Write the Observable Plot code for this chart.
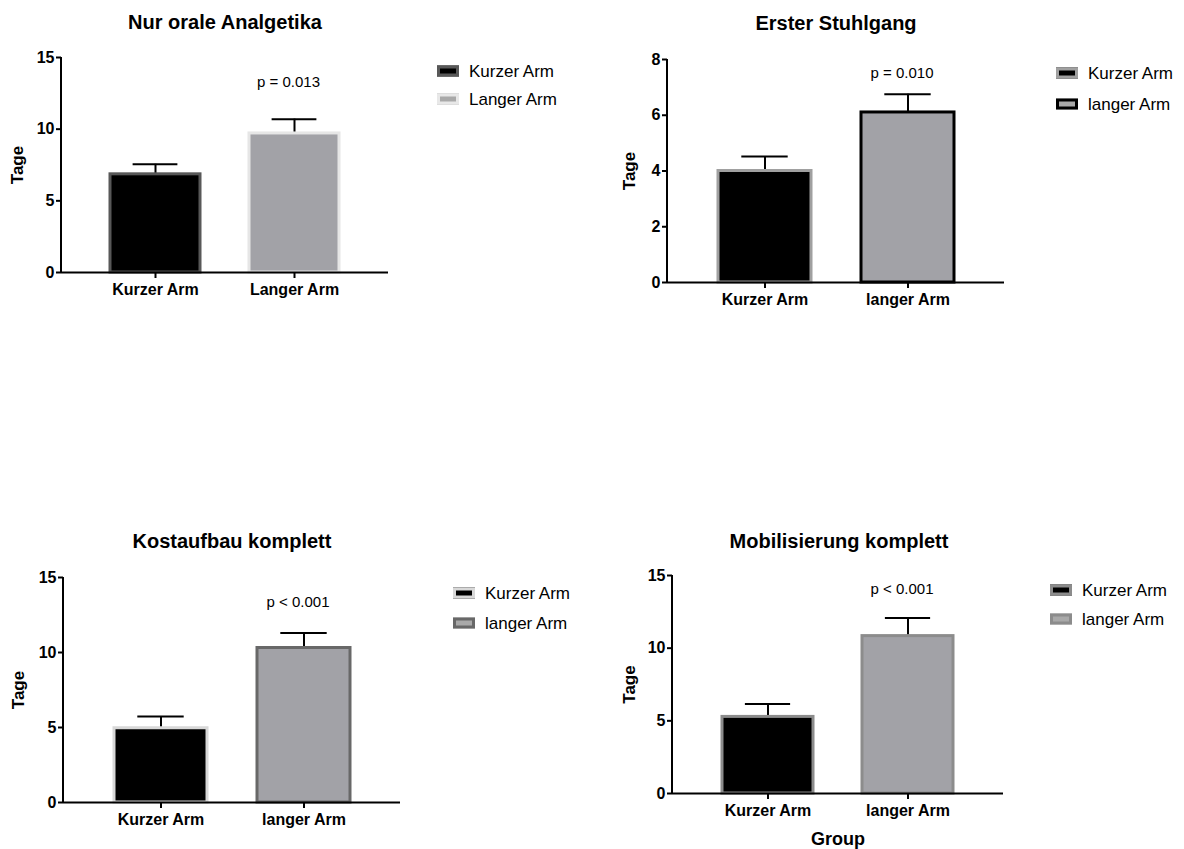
<!DOCTYPE html>
<html><head><meta charset="utf-8">
<script src="https://cdn.jsdelivr.net/npm/d3@7"></script>
<script src="https://cdn.jsdelivr.net/npm/@observablehq/plot@0.6"></script>
<style>
body{margin:0;background:#fff;font-family:"Liberation Sans",Arial,sans-serif;}
#root{position:relative;width:1184px;height:849px;overflow:hidden;}
.panel{position:absolute;}
.title{position:absolute;font-weight:bold;font-size:20px;line-height:1;transform:translate(-50%,-50%);white-space:nowrap;color:#000;}
.leg{position:absolute;display:flex;align-items:center;font-size:17px;line-height:1;white-space:nowrap;transform:translateY(-50%);color:#000;}
.sw{box-sizing:border-box;width:22px;height:11px;border:3px solid;margin-right:10px;}
</style></head><body><div id="root"></div>
<script>
// ---- data ----
const titles = ["Nur orale Analgetika", "Erster Stuhlgang", "Kostaufbau komplett", "Mobilisierung komplett"];
const groupsOral = ["Kurzer Arm", "Langer Arm"];
const groups = ["Kurzer Arm", "langer Arm"];
const meanOral = [6.85, 9.7];   const semOral = [0.7, 1.0];
const meanStuhl = [4.0, 6.1];   const semStuhl = [0.52, 0.65];
const meanKost = [4.95, 10.3];  const semKost = [0.78, 1.0];
const meanMobil = [5.27, 10.83]; const semMobil = [0.89, 1.24];
const pLabels = ["p = 0.013", "p = 0.010", "p < 0.001", "p < 0.001"];
const yTicks15 = [0, 5, 10, 15];
const yTicks8 = [0, 2, 4, 6, 8];
const yLabel = "Tage";
const xLabel = "Group";

// ---- layout / styles ----
const gray = "#a2a2a7";
const panels = [
  {left:0, top:40, w:400, h:270, mL:61, mR:12, mT:17, mB:38, yDomain:[0,15], ticks:yTicks15,
   groups:groupsOral, means:meanOral, sems:semOral, fills:["#000", gray], strokes:["#585858","#e6e6e6"],
   p:pLabels[0], pDy:25, pDx:-6, yLabDx:-44, title:titles[0], titleX:225, titleY:22,
   legX:437, legY:[71,99], legFill:["#000","#a9a9a9"], legStroke:["#585858","#e8e8e8"]},
  {left:590, top:40, w:425, h:280, mL:77, mR:11, mT:19, mB:38, yDomain:[0,8], ticks:yTicks8,
   groups:groups, means:meanStuhl, sems:semStuhl, fills:["#000", gray], strokes:["#a0a0a0","#000"],
   p:pLabels[1], pDy:14, pDx:-6, yLabDx:-38, title:titles[1], titleX:836, titleY:23,
   legX:1056, legY:[73,104], legFill:["#000","#a9a9a9"], legStroke:["#a0a0a0","#000"]},
  {left:0, top:560, w:412, h:280, mL:63, mR:12, mT:17, mB:38, yDomain:[0,15], ticks:yTicks15,
   groups:groups, means:meanKost, sems:semKost, fills:["#000", gray], strokes:["#d8d8d8","#686868"],
   p:pLabels[2], pDy:25, pDx:-6, yLabDx:-45, title:titles[2], titleX:232, titleY:541,
   legX:453, legY:[593,623], legFill:["#000","#a9a9a9"], legStroke:["#d8d8d8","#686868"]},
  {left:590, top:560, w:425, h:293, mL:82, mR:12, mT:15, mB:60, yDomain:[0,15], ticks:yTicks15,
   groups:groups, means:meanMobil, sems:semMobil, fills:["#000", gray], strokes:["#8c8c8c","#8c8c8c"],
   p:pLabels[3], pDy:14, pDx:-6, yLabDx:-43, title:titles[3], titleX:839, titleY:541,
   legX:1050, legY:[590,619], legFill:["#000","#a9a9a9"], legStroke:["#8c8c8c","#8c8c8c"], xLab:true, xLabDy:46}
];

const root = document.getElementById("root");
const pad = 0.35;

function drawPanel(c) {
  const data = c.groups.map((g, i) => ({group: g, mean: c.means[i], top: c.means[i] + c.sems[i], fill: c.fills[i], stroke: c.strokes[i]}));
  const step = (c.w - c.mL - c.mR) / (c.groups.length - pad + 2 * pad);
  const bw = step * (1 - pad);
  const marks = [
    Plot.ruleX(data, {x: "group", y1: "mean", y2: "top", stroke: "#000", strokeWidth: 2}),
    Plot.tickY(data, {x: "group", y: "top", stroke: "#000", strokeWidth: 2, insetLeft: bw / 4, insetRight: bw / 4}),
    Plot.barY(data, {x: "group", y: "mean", fill: "fill", stroke: "stroke", strokeWidth: 3}),
    Plot.ruleY([0], {stroke: "#000", strokeWidth: 2}),
    Plot.axisY({ticks: c.ticks, tickSize: 5, tickPadding: 2, strokeWidth: 2, fontSize: 16, fontWeight: "bold", label: null}),
    Plot.axisX({tickSize: 6, tickPadding: 5, strokeWidth: 2, fontSize: 16, fontWeight: "bold", label: null}),
    Plot.text([c.p], {x: [c.groups[1]], text: d => d, frameAnchor: "top", lineAnchor: "middle", dy: c.pDy, dx: c.pDx, fontSize: 15, fontWeight: "normal"}),
    Plot.text([yLabel], {frameAnchor: "left", textAnchor: "middle", lineAnchor: "middle", rotate: -90, dx: c.yLabDx, fontSize: 17, fontWeight: "bold"})
  ];
  if (c.xLab) marks.push(Plot.text([xLabel], {frameAnchor: "bottom", lineAnchor: "middle", dy: c.xLabDy, fontSize: 18, fontWeight: "bold"}));
  const plot = Plot.plot({
    width: c.w, height: c.h,
    marginLeft: c.mL, marginRight: c.mR, marginTop: c.mT, marginBottom: c.mB,
    style: {fontFamily: '"Liberation Sans", Arial, sans-serif', fontSize: "16px", color: "#000", background: "transparent", overflow: "visible"},
    x: {domain: c.groups, padding: pad, label: null},
    y: {domain: c.yDomain, label: null},
    color: {type: "identity"},
    marks
  });
  const ys = plot.scale("y");
  d3.select(plot).append("line")
    .attr("x1", c.mL).attr("x2", c.mL)
    .attr("y1", ys.range[0] + 1).attr("y2", ys.range[1])
    .attr("stroke", "#000").attr("stroke-width", 2);
  plot.classList.add("panel");
  plot.style.left = c.left + "px";
  plot.style.top = c.top + "px";
  root.appendChild(plot);

  const t = document.createElement("div");
  t.className = "title";
  t.textContent = c.title;
  t.style.left = c.titleX + "px";
  t.style.top = c.titleY + "px";
  root.appendChild(t);

  c.groups.forEach((g, i) => {
    const l = document.createElement("div");
    l.className = "leg";
    l.style.left = c.legX + "px";
    l.style.top = c.legY[i] + "px";
    const sw = document.createElement("span");
    sw.className = "sw";
    sw.style.background = c.legFill[i];
    sw.style.borderColor = c.legStroke[i];
    l.appendChild(sw);
    l.appendChild(document.createTextNode(g));
    root.appendChild(l);
  });
}
panels.forEach(drawPanel);
</script></body></html>
